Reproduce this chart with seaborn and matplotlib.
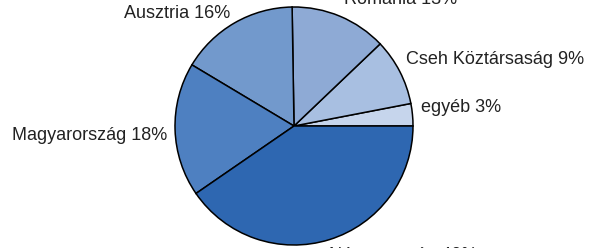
import matplotlib
matplotlib.use("Agg")
import matplotlib.pyplot as plt
import seaborn as sns

# Data (counter-clockwise from 3 o'clock)
categories = ["egyéb", "Cseh Köztársaság", "Románia", "Ausztria", "Magyarország", "Németország"]
values = [3, 9, 13, 16, 18, 40]
colors = ["#c6d5ec", "#a8bfe1", "#8eaad5", "#7299cc", "#4e80c1", "#2e67b1"]

sns.set_theme(style="white")
plt.rcParams["font.family"] = ["Liberation Sans", "DejaVu Sans"]

W, H = 594, 248
fig = plt.figure(figsize=(W / 100, H / 100), dpi=100)
ax = fig.add_axes([0, 0, 1, 1])
ax.set_xlim(0, W)
ax.set_ylim(H, 0)
ax.axis("off")

cx, cy, r = 294, 126, 119
wedges, _ = ax.pie(values, colors=colors, startangle=0, counterclock=False,
                   center=(cx, cy), radius=r, frame=True,
                   wedgeprops=dict(edgecolor="black", linewidth=1.1))
# y axis inverted -> counterclock=False gives counter-clockwise on screen
ax.set_xlim(0, W)
ax.set_ylim(H, 0)
ax.set_aspect("equal")
ax.axis("off")

# label layout (pixel positions, y downward)
label_pos = {
    "egyéb": (421, 107, "left"),
    "Cseh Köztársaság": (406, 60, "left"),
    "Románia": (344, -1, "left"),
    "Ausztria": (230, 13, "right"),
    "Magyarország": (167, 135, "right"),
    "Németország": (329, 256, "left"),
}
for cat, v in zip(categories, values):
    x, y, ha = label_pos[cat]
    ax.text(x, y, f"{cat} {v}%", ha=ha, va="center", fontsize=13, color="#222222")

fig.savefig("out.png", dpi=100)
